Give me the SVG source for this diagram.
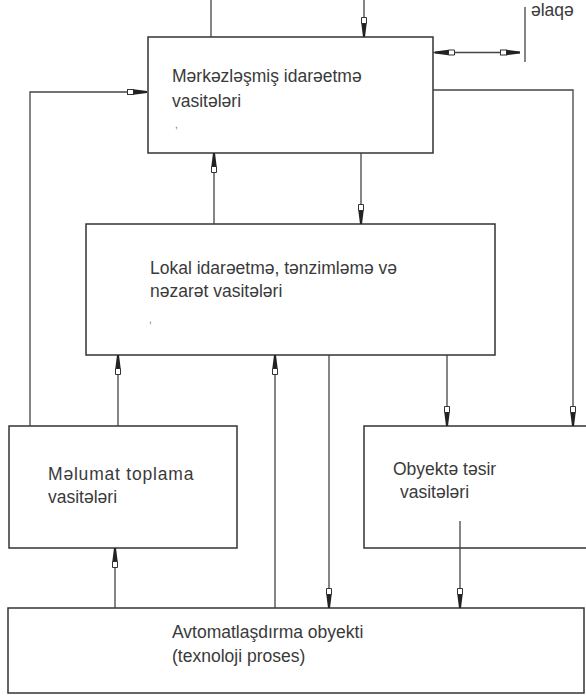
<svg xmlns="http://www.w3.org/2000/svg" width="586" height="698" viewBox="0 0 586 698">
<style>
.box{fill:#fff;stroke:#333;stroke-width:1.5}
.ln{fill:none;stroke:#444;stroke-width:1.3}
.t{font-family:"Liberation Sans",Arial,sans-serif;font-size:17.5px;fill:#3a3a3a}
.dot{font-family:"Liberation Sans",Arial,sans-serif;font-size:10px;fill:#777}
</style>
<defs>
<marker id="ah" markerUnits="userSpaceOnUse" markerWidth="22" markerHeight="8" refX="20" refY="4" orient="auto-start-reverse">
<rect x="0.5" y="1.5" width="6" height="5" fill="#fff" stroke="#333" stroke-width="1"/>
<polygon points="6.5,1.3 20,3 20,5 6.5,6.7" fill="#222"/>
</marker>
</defs>
<rect width="586" height="698" fill="#fff"/>
<g id="n-central">
<rect class="box" x="148" y="37" width="285" height="116"/>
<text class="t" x="172" y="82">Mərkəzləşmiş idarəetmə</text>
<text class="t" x="172" y="107">vasitələri</text>
<text class="dot" x="175" y="128">,</text>
</g>
<g id="n-local">
<rect class="box" x="86" y="224" width="409" height="131"/>
<text class="t" x="150" y="274">Lokal idarəetmə, tənzimləmə və</text>
<text class="t" x="150" y="297">nəzarət vasitələri</text>
<text class="dot" x="149" y="323">,</text>
</g>
<g id="n-melumat">
<rect class="box" x="9" y="426" width="228" height="122"/>
<text class="t" x="48" y="480" letter-spacing="0.8">Məlumat toplama</text>
<text class="t" x="48" y="503">vasitələri</text>
</g>
<g id="n-tesir">
<rect class="box" x="364" y="426" width="240" height="122"/>
<text class="t" x="393" y="475">Obyektə təsir</text>
<text class="t" x="400" y="498">vasitələri</text>
</g>
<g id="n-obyekt">
<rect class="box" x="8" y="608" width="576" height="85"/>
<text class="t" x="172" y="638">Avtomatlaşdırma obyekti</text>
<text class="t" x="172" y="662">(texnoloji proses)</text>
</g>
<g id="n-elaqe">
<text class="t" x="531" y="16">əlaqə</text>
</g>
<g id="connectors">
<line class="ln" x1="211" y1="0" x2="211" y2="37"/>
<line class="ln" x1="364" y1="0" x2="364" y2="37" marker-end="url(#ah)"/>
<line class="ln" x1="433" y1="52.5" x2="435" y2="52.5"/>
<line class="ln" x1="435" y1="52.5" x2="520" y2="52.5" marker-start="url(#ah)" marker-end="url(#ah)"/>
<line class="ln" x1="525" y1="7" x2="525" y2="62"/>
<path class="ln" d="M30,426 V92 H147" marker-end="url(#ah)"/>
<path class="ln" d="M433,90 H573 V426" marker-end="url(#ah)"/>
<line class="ln" x1="214" y1="224" x2="214" y2="153" marker-end="url(#ah)"/>
<line class="ln" x1="361" y1="153" x2="361" y2="224" marker-end="url(#ah)"/>
<line class="ln" x1="118" y1="426" x2="118" y2="355" marker-end="url(#ah)"/>
<line class="ln" x1="275" y1="608" x2="275" y2="355" marker-end="url(#ah)"/>
<line class="ln" x1="329" y1="355" x2="329" y2="608" marker-end="url(#ah)"/>
<line class="ln" x1="447" y1="355" x2="447" y2="426" marker-end="url(#ah)"/>
<line class="ln" x1="460" y1="521" x2="460" y2="608" marker-end="url(#ah)"/>
<line class="ln" x1="115" y1="608" x2="115" y2="548" marker-end="url(#ah)"/>
</g>
</svg>
